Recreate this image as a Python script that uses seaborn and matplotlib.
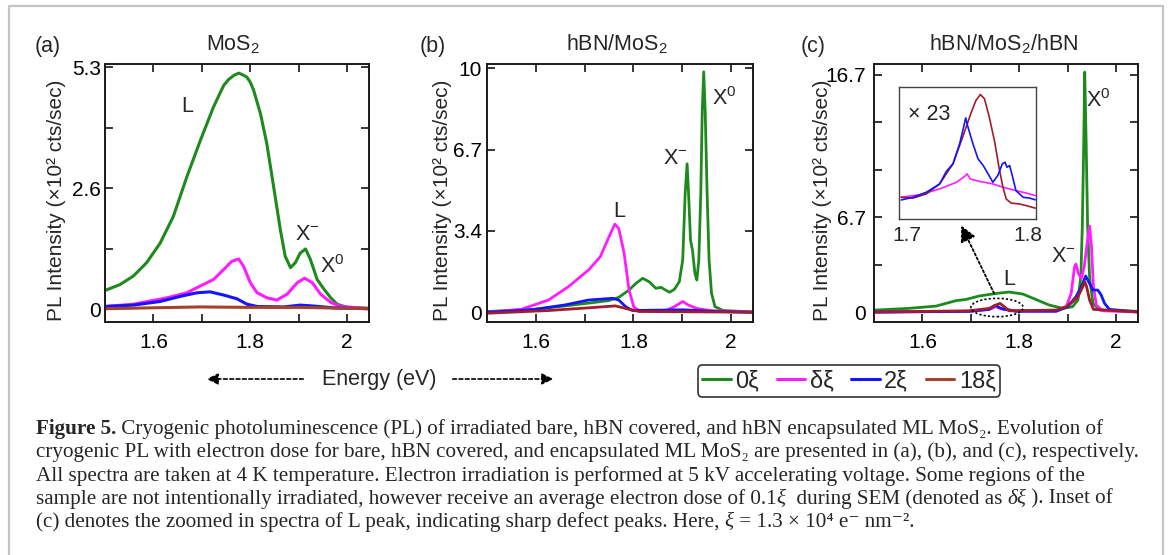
import matplotlib
matplotlib.use("Agg")
import matplotlib.pyplot as plt
import seaborn as sns
from matplotlib.lines import Line2D
from matplotlib.patches import Ellipse, FancyArrowPatch

# ---------------- data ----------------
# Panel (a) bare MoS2
a_E_green = [1.500, 1.531, 1.559, 1.586, 1.614, 1.641, 1.669, 1.697, 1.724, 1.745, 1.755, 1.766,
             1.776, 1.785, 1.793, 1.800, 1.807, 1.821, 1.834, 1.848, 1.862, 1.872, 1.883, 1.893,
             1.903, 1.914, 1.924, 1.938, 1.952, 1.966, 1.979, 2.000, 2.048]
a_I_green = [0.41, 0.54, 0.73, 1.02, 1.45, 2.03, 2.90, 3.70, 4.43, 4.90, 5.03, 5.12,
             5.17, 5.13, 5.08, 4.97, 4.79, 4.28, 3.63, 2.69, 1.74, 1.16, 0.91, 1.02,
             1.23, 1.32, 1.09, 0.65, 0.44, 0.25, 0.11, 0.04, 0.02]
a_E_mag = [1.500, 1.559, 1.628, 1.669, 1.697, 1.724, 1.745, 1.762, 1.776, 1.786, 1.800, 1.814,
           1.834, 1.855, 1.876, 1.897, 1.912, 1.928, 1.945, 1.966, 1.986, 2.048]
a_I_mag = [0.06, 0.11, 0.25, 0.36, 0.51, 0.65, 0.87, 1.05, 1.10, 0.94, 0.58, 0.36,
           0.25, 0.20, 0.33, 0.58, 0.68, 0.58, 0.33, 0.15, 0.06, 0.01]
a_E_blue = [1.500, 1.559, 1.614, 1.655, 1.690, 1.717, 1.745, 1.772, 1.793, 1.814, 1.869, 1.903,
            1.931, 1.972, 2.048]
a_I_blue = [0.06, 0.09, 0.17, 0.28, 0.36, 0.38, 0.31, 0.23, 0.11, 0.06, 0.05, 0.09,
            0.07, 0.03, 0.01]
a_E_brown = [1.500, 1.593, 1.697, 1.800, 1.903, 2.048]
a_I_brown = [0.01, 0.03, 0.05, 0.04, 0.04, 0.01]

# Panel (b) hBN/MoS2
b_E_green = [1.501, 1.598, 1.660, 1.715, 1.750, 1.770, 1.791, 1.805, 1.819, 1.832, 1.846, 1.857,
             1.863, 1.874, 1.884, 1.894, 1.901, 1.906, 1.910, 1.913, 1.917, 1.921, 1.926, 1.930,
             1.934, 1.938, 1.941, 1.944, 1.947, 1.951, 1.955, 1.960, 1.967, 1.984, 2.046]
b_I_green = [0.03, 0.12, 0.26, 0.39, 0.48, 0.61, 0.91, 1.18, 1.39, 1.25, 0.98, 1.02,
             0.94, 0.82, 0.94, 1.25, 2.14, 4.86, 6.08, 4.86, 2.95, 2.54, 1.59, 1.32,
             2.14, 4.86, 8.26, 9.85, 8.26, 4.86, 2.14, 0.78, 0.23, 0.07, 0.01]
b_E_mag = [1.501, 1.570, 1.626, 1.667, 1.708, 1.732, 1.750, 1.762, 1.770, 1.781, 1.791, 1.801,
           1.812, 1.867, 1.884, 1.901, 1.912, 1.929, 1.957, 2.046]
b_I_mag = [0.00, 0.12, 0.50, 1.05, 1.73, 2.27, 3.09, 3.61, 3.43, 2.41, 0.91, 0.20,
           0.07, 0.07, 0.23, 0.44, 0.30, 0.16, 0.07, 0.00]
b_E_blue = [1.501, 1.591, 1.660, 1.708, 1.757, 1.770, 1.784, 1.798, 1.901, 1.970, 2.046]
b_I_blue = [0.00, 0.10, 0.30, 0.50, 0.57, 0.50, 0.23, 0.07, 0.10, 0.03, 0.00]
b_E_brown = [1.501, 1.626, 1.715, 1.763, 1.791, 1.812, 2.046]
b_I_brown = [-0.04, 0.07, 0.19, 0.26, 0.12, 0.03, 0.00]

# Panel (c) hBN/MoS2/hBN
c_E_green = [1.503, 1.572, 1.628, 1.669, 1.690, 1.717, 1.752, 1.779, 1.807, 1.834, 1.862, 1.890,
             1.910, 1.921, 1.927, 1.930, 1.933, 1.935, 1.938, 1.941, 1.945, 1.952, 1.966, 2.048]
c_I_green = [0.14, 0.26, 0.42, 0.80, 0.89, 1.13, 1.31, 1.41, 1.27, 0.89, 0.49, 0.26,
             0.38, 0.85, 2.49, 6.01, 11.9, 16.9, 11.9, 6.01, 2.49, 0.61, 0.14, 0.05]
c_E_mag = [1.503, 1.697, 1.738, 1.752, 1.766, 1.793, 1.876, 1.897, 1.907, 1.914, 1.917, 1.922,
           1.928, 1.934, 1.939, 1.945, 1.949, 1.953, 1.959, 1.972, 2.048]
c_I_mag = [0.00, 0.05, 0.19, 0.38, 0.19, 0.09, 0.09, 0.38, 1.31, 3.19, 3.38, 2.72,
           2.37, 3.19, 4.60, 6.06, 4.60, 1.78, 0.49, 0.09, 0.00]
c_E_blue = [1.503, 1.697, 1.738, 1.750, 1.762, 1.779, 1.793, 1.876, 1.900, 1.917, 1.928, 1.937,
            1.943, 1.952, 1.962, 1.969, 1.976, 1.986, 2.048]
c_I_blue = [0.00, 0.05, 0.19, 0.49, 0.26, 0.14, 0.05, 0.05, 0.38, 1.08, 1.78, 2.54,
            2.14, 1.55, 1.55, 1.20, 0.61, 0.19, 0.00]
c_E_brown = [1.503, 1.697, 1.738, 1.752, 1.760, 1.769, 1.779, 1.876, 1.897, 1.910, 1.921, 1.931,
             1.935, 1.939, 1.945, 1.953, 2.048]
c_I_brown = [0.00, 0.09, 0.26, 0.49, 0.61, 0.38, 0.09, 0.14, 0.38, 0.73, 1.08, 1.78,
             2.14, 1.78, 0.85, 0.19, 0.00]

# Inset of (c): L region, x23
i_E_blue = [1.6953, 1.705, 1.716, 1.727, 1.7325, 1.738, 1.7435, 1.7468, 1.7485, 1.750, 1.7545,
            1.7587, 1.763, 1.767, 1.771, 1.775, 1.7788, 1.781, 1.7826, 1.7848, 1.787, 1.790,
            1.796, 1.8014, 1.806]
i_I_blue = [2.08, 2.4, 3.0, 4.0, 5.5, 6.4, 8.8, 10.8, 11.9, 11.0, 8.8,
            7.0, 6.2, 5.2, 4.2, 5.0, 6.4, 6.6, 6.0, 6.2, 5.0, 3.2,
            2.4, 2.3, 2.1]
i_E_brown = [1.6953, 1.705, 1.716, 1.727, 1.738, 1.746, 1.7532, 1.757, 1.7606, 1.764, 1.768,
             1.7725, 1.776, 1.7793, 1.782, 1.786, 1.793, 1.7986, 1.806]
i_I_brown = [2.4, 2.3, 2.8, 4.0, 6.4, 9.6, 12.6, 14.0, 14.7, 14.2, 12.0,
             9.0, 6.0, 3.6, 2.2, 1.7, 1.6, 1.4, 1.1]
i_E_mag = [1.6953, 1.7105, 1.727, 1.741, 1.7477, 1.7496, 1.7523, 1.760, 1.771, 1.7793, 1.790,
           1.7986, 1.806]
i_I_mag = [2.4, 2.7, 3.4, 4.2, 4.9, 5.2, 4.6, 4.3, 4.0, 3.6, 3.2,
           2.9, 2.6]

doses = ["0ξ", "δξ", "2ξ", "18ξ"]
panel_titles = ["MoS$_2$", "hBN/MoS$_2$", "hBN/MoS$_2$/hBN"]
panel_tags = ["(a)", "(b)", "(c)"]
x_ticks = [1.6, 1.7, 1.8, 1.9, 2.0]
x_ticklabels = ["1.6", "", "1.8", "", "2"]
a_yticks = [0, 1.325, 2.65, 3.975, 5.3]
a_yticklabels = ["0", "", "2.6", "", "5.3"]
b_yticks = [0, 10 / 3, 20 / 3, 10]
b_yticklabels = ["0", "3.4", "6.7", "10"]
c_yticks = [0, 3.34, 6.68, 10.02, 13.36, 16.7]
c_yticklabels = ["0", "", "6.7", "", "", "16.7"]

caption_lines = [
    [("Figure 5.", "bold", "normal"),
     (" Cryogenic photoluminescence (PL) of irradiated bare, hBN covered, and hBN encapsulated ML MoS₂. Evolution of", "normal", "normal")],
    [("cryogenic PL with electron dose for bare, hBN covered, and encapsulated ML MoS₂ are presented in (a), (b), and (c), respectively.", "normal", "normal")],
    [("All spectra are taken at 4 K temperature. Electron irradiation is performed at 5 kV accelerating voltage. Some regions of the", "normal", "normal")],
    [("sample are not intentionally irradiated, however receive an average electron dose of 0.1", "normal", "normal"),
     ("ξ", "normal", "italic"), ("  during SEM (denoted as ", "normal", "normal"),
     ("δξ", "normal", "italic"), (" ). Inset of", "normal", "normal")],
    [("(c) denotes the zoomed in spectra of L peak, indicating sharp defect peaks. Here, ", "normal", "normal"),
     ("ξ", "normal", "italic"), (" = 1.3 × 10⁴ e⁻ nm⁻².", "normal", "normal")],
]

# ---------------- style ----------------
sns.set_theme(style="ticks")
plt.rcParams["font.family"] = ["Liberation Sans", "DejaVu Sans"]
plt.rcParams["mathtext.fontset"] = "custom"
plt.rcParams["mathtext.rm"] = "Liberation Sans"
plt.rcParams["mathtext.it"] = "Liberation Sans:italic"
plt.rcParams["mathtext.bf"] = "Liberation Sans:bold"

GREEN = "#1e8a1e"
MAGENTA = "#ff1cff"
BLUE = "#1414ff"
BROWN_A = "#a4422a"
BROWN = "#9e1e2c"
FS = 15.5
TFS = 15.0

W, H = 1168, 555
fig = plt.figure(figsize=(W / 100, H / 100), dpi=100)
fig.patch.set_facecolor("white")


def fx(p):
    return p / W


def fy(p):
    return 1 - p / H


def rect(l, r, t, b):
    return [fx(l), fy(b), (r - l) / W, (b - t) / H]


def draw(ax, x, y, color, lw=2.0):
    sns.lineplot(x=x, y=y, ax=ax, color=color, linewidth=lw, estimator=None,
                 sort=False, legend=False)


def style(ax, ylim, yticks, yticklabels, ypad):
    ax.set_xlim(1.5, 2.045)
    ax.set_ylim(*ylim)
    ax.set_xticks(x_ticks)
    ax.set_xticklabels(x_ticklabels)
    ax.set_yticks(yticks)
    ax.set_yticklabels(yticklabels)
    ax.tick_params(direction="in", top=True, right=True, length=6, width=1.1,
                   labelsize=TFS, colors="black")
    ax.tick_params(axis="x", pad=8)
    ax.tick_params(axis="y", pad=ypad)
    for s in ax.spines.values():
        s.set_linewidth(1.4)
        s.set_color("#1a1a1a")
    ax.set_xlabel("")
    ax.set_ylabel("")


ax_a = fig.add_axes(rect(105, 369, 64, 322))
ax_b = fig.add_axes(rect(487, 753, 64, 322))
ax_c = fig.add_axes(rect(874, 1138, 64, 322))

draw(ax_a, a_E_green, a_I_green, GREEN, 2.2)
draw(ax_a, a_E_mag, a_I_mag, MAGENTA, 2.2)
draw(ax_a, a_E_blue, a_I_blue, BLUE, 2.2)
draw(ax_a, a_E_brown, a_I_brown, BROWN_A, 2.2)
style(ax_a, (-0.28, 5.37), a_yticks, a_yticklabels, 3)

draw(ax_b, b_E_green, b_I_green, GREEN)
draw(ax_b, b_E_mag, b_I_mag, MAGENTA)
draw(ax_b, b_E_blue, b_I_blue, BLUE)
draw(ax_b, b_E_brown, b_I_brown, BROWN)
style(ax_b, (-0.40, 10.17), b_yticks, b_yticklabels, 3.5)

draw(ax_c, c_E_green, c_I_green, GREEN)
draw(ax_c, c_E_mag, c_I_mag, MAGENTA)
draw(ax_c, c_E_blue, c_I_blue, BLUE)
draw(ax_c, c_E_brown, c_I_brown, BROWN)
style(ax_c, (-0.70, 17.47), c_yticks, c_yticklabels, 6)

# panel annotations
ann = dict(ha="center", va="baseline", fontsize=FS)
ax_a.text(1.670, 4.31, "L", **ann)
ax_a.text(1.918, 1.51, "X$^{-}$", **ann)
ax_a.text(1.969, 0.79, "X$^{0}$", **ann)
ax_b.text(1.770, 3.89, "L", **ann)
ax_b.text(1.885, 6.09, "X$^{-}$", **ann)
ax_b.text(1.987, 8.50, "X$^{0}$", **ann)
ax_c.text(1.779, 1.89, "L", **ann)
ax_c.text(1.891, 3.51, "X$^{-}$", **ann)
ax_c.text(1.963, 14.46, "X$^{0}$", **ann)

ax_c.add_patch(Ellipse((1.754, 0.32), 0.108, 1.29, fill=False, edgecolor="black",
                       linestyle=(0, (1.3, 1.3)), linewidth=1.2, zorder=5))
ax_c.annotate("", xy=(1.680, 6.1), xytext=(1.748, 1.31),
              arrowprops=dict(arrowstyle="-|>", linestyle=(0, (1.3, 1.3)), lw=1.3,
                              color="black", mutation_scale=24, shrinkA=0, shrinkB=0))

# inset
ax_i = fig.add_axes(rect(899, 1036, 87, 219))
draw(ax_i, i_E_mag, i_I_mag, MAGENTA, 1.2)
draw(ax_i, i_E_brown, i_I_brown, BROWN, 1.2)
draw(ax_i, i_E_blue, i_I_blue, BLUE, 1.2)
ax_i.set_xlim(1.6934, 1.8066)
ax_i.set_ylim(-0.2, 15.6)
ax_i.set_xticks([1.7, 1.8])
ax_i.set_xticklabels(["1.7", "1.8"])
ax_i.set_yticks([])
ax_i.tick_params(axis="x", length=0, pad=5, labelsize=TFS)
for s in ax_i.spines.values():
    s.set_linewidth(1.0)
    s.set_color("#444444")
ax_i.set_xlabel("")
ax_i.set_ylabel("")
ax_i.text(0.219, 0.75, "× 23", transform=ax_i.transAxes, ha="center", va="baseline",
          fontsize=FS)

# titles, tags, y labels
for xc, t in zip([233, 617, 1004], panel_titles):
    fig.text(fx(xc), fy(50.5), t, ha="center", va="baseline", fontsize=FS)
for xc, t in zip([48, 433, 813], panel_tags):
    fig.text(fx(xc), fy(52), t, ha="center", va="baseline", fontsize=FS)
for xc in [56, 443, 823]:
    fig.text(fx(xc), fy(200), "PL Intensity (×10² cts/sec)", rotation=90,
             ha="center", va="center", fontsize=15)

# energy arrow
for x0, x1 in [(306, 204), (450, 556)]:
    fig.add_artist(FancyArrowPatch((fx(x0), fy(379)), (fx(x1), fy(379)),
                                   transform=fig.transFigure, arrowstyle="-|>",
                                   mutation_scale=17, linestyle=(0, (2.2, 1.6)),
                                   linewidth=1.2, color="black"))
fig.text(fx(379), fy(379), "Energy (eV)", ha="center", va="center", fontsize=FS)

# legend
handles = [Line2D([], [], color=c, lw=2.2) for c in [GREEN, MAGENTA, BLUE, BROWN_A]]
leg = fig.legend(handles, doses, loc="center", bbox_to_anchor=(fx(849), fy(381)), ncol=4,
                 frameon=True, fancybox=True, fontsize=17, handlelength=1.2,
                 handletextpad=0.2, columnspacing=0.75, borderpad=0.2, framealpha=1)
leg.get_frame().set_edgecolor("#333333")
leg.get_frame().set_linewidth(1.2)

# caption
renderer = fig.canvas.get_renderer()
CAP_FS = 15.2
cap_family = ["Liberation Serif", "DejaVu Serif"]


def seg_width(text, weight, style_):
    t1 = fig.text(0, 0, text + "|", fontsize=CAP_FS, family=cap_family, weight=weight,
                  style=style_)
    t2 = fig.text(0, 0, "|", fontsize=CAP_FS, family=cap_family, weight=weight, style=style_)
    w = t1.get_window_extent(renderer).width - t2.get_window_extent(renderer).width
    t1.remove()
    t2.remove()
    return w


for i, line in enumerate(caption_lines):
    xpos = 36
    ybase = 434 + 23.3 * i
    for text, weight, style_ in line:
        fig.text(fx(xpos), fy(ybase), text, ha="left", va="baseline", fontsize=CAP_FS,
                 family=cap_family, weight=weight, style=style_)
        xpos += seg_width(text, weight, style_)

# page frame
fig.add_artist(Line2D([fx(9), fx(9), fx(1163), fx(1163)], [fy(560), fy(6), fy(6), fy(560)],
                      transform=fig.transFigure, color="#c4c4c4", lw=1.6))

fig.savefig("out.png", dpi=100)
